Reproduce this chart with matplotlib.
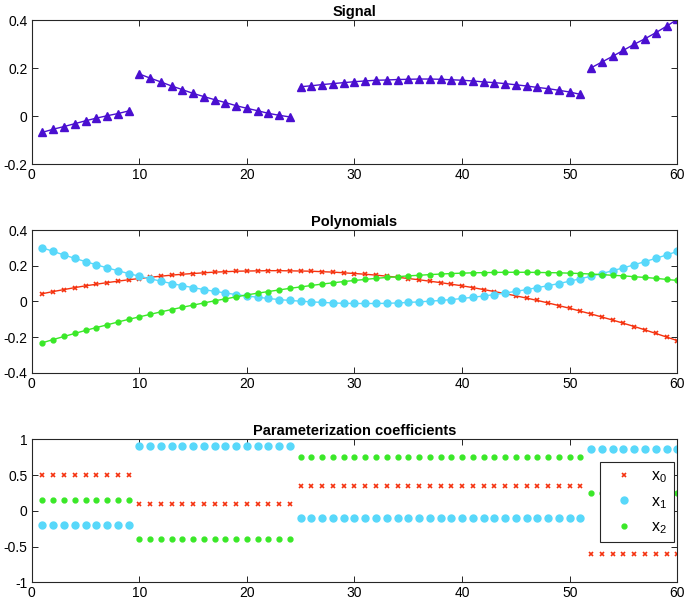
import numpy as np
import matplotlib
matplotlib.use("Agg")
import matplotlib.pyplot as plt
from matplotlib.ticker import FuncFormatter

plt.rcParams['font.family'] = ['Liberation Sans', 'DejaVu Sans']
plt.rcParams['mathtext.fontset'] = 'custom'
plt.rcParams['mathtext.rm'] = 'Liberation Sans'

# sample index
n = np.arange(1, 61)

# segments of the signal (start, end index, inclusive)
seg_bounds = [(1, 9), (10, 24), (25, 51), (52, 60)]

signal = [
    -0.068, -0.055, -0.044, -0.032, -0.020, -0.009, 0.001, 0.010, 0.021,
    0.175, 0.158, 0.142, 0.125, 0.110, 0.094, 0.081, 0.068, 0.056, 0.043,
    0.032, 0.022, 0.011, 0.003, -0.004,
    0.122, 0.126, 0.131, 0.135, 0.139, 0.143, 0.146, 0.149, 0.150, 0.152,
    0.153, 0.154, 0.154, 0.153, 0.151, 0.149, 0.146, 0.142, 0.139, 0.135,
    0.130, 0.125, 0.119, 0.114, 0.107, 0.100, 0.090,
    0.201, 0.225, 0.249, 0.274, 0.299, 0.322, 0.347, 0.374, 0.403,
]

# polynomial basis
poly0 = [
    0.043, 0.055, 0.066, 0.077, 0.087, 0.096, 0.105, 0.113, 0.121, 0.128,
    0.135, 0.141, 0.147, 0.152, 0.156, 0.160, 0.164, 0.166, 0.169, 0.170,
    0.171, 0.172, 0.172, 0.171, 0.170, 0.169, 0.166, 0.164, 0.160, 0.156,
    0.152, 0.147, 0.141, 0.135, 0.128, 0.121, 0.113, 0.105, 0.096, 0.087,
    0.077, 0.066, 0.055, 0.043, 0.031, 0.018, 0.005, -0.009, -0.024, -0.039,
    -0.055, -0.071, -0.088, -0.105, -0.123, -0.141, -0.160, -0.180, -0.200, -0.220,
]
poly1 = [
    0.300, 0.280, 0.260, 0.241, 0.223, 0.205, 0.188, 0.172, 0.156, 0.141,
    0.127, 0.113, 0.100, 0.088, 0.077, 0.066, 0.056, 0.047, 0.038, 0.030,
    0.023, 0.016, 0.010, 0.005, 0.001, -0.003, -0.006, -0.009, -0.011, -0.012,
    -0.012, -0.012, -0.011, -0.009, -0.006, -0.003, 0.001, 0.005, 0.010, 0.016,
    0.023, 0.030, 0.038, 0.047, 0.056, 0.066, 0.077, 0.088, 0.100, 0.113,
    0.127, 0.141, 0.156, 0.172, 0.188, 0.205, 0.223, 0.241, 0.260, 0.280,
]
poly2 = [
    -0.232, -0.214, -0.197, -0.180, -0.163, -0.147, -0.132, -0.116, -0.101, -0.087,
    -0.073, -0.059, -0.046, -0.033, -0.021, -0.009, 0.003, 0.014, 0.025, 0.036,
    0.046, 0.055, 0.064, 0.073, 0.081, 0.089, 0.097, 0.104, 0.111, 0.117,
    0.123, 0.129, 0.134, 0.138, 0.143, 0.146, 0.150, 0.153, 0.156, 0.158,
    0.160, 0.161, 0.162, 0.163, 0.163, 0.163, 0.162, 0.161, 0.160, 0.158,
    0.156, 0.153, 0.150, 0.146, 0.143, 0.138, 0.134, 0.129, 0.123, 0.117,
]

# coefficients, constant over each segment
seg_len = [9, 15, 27, 9]
coef0_seg = [0.50, 0.10, 0.35, -0.60]
coef1_seg = [-0.20, 0.91, -0.10, 0.86]
coef2_seg = [0.15, -0.40, 0.75, 0.25]

c_sig = '#4a0fd0'
c_red = '#f5320f'
c_cyan = '#58d8fa'
c_green = '#3ae828'

fig = plt.figure(figsize=(6.85, 6.04), dpi=100)
W, H = 685., 604.
left, right = 31.7, 677.3


def make_ax(top, bottom):
    ax = fig.add_axes([left / W, 1 - bottom / H, (right - left) / W, (bottom - top) / H])
    ax.tick_params(direction='in', length=4, labelsize=10, top=True, right=True,
                   labeltop=False, labelright=False, width=0.6, pad=3)
    for s in ax.spines.values():
        s.set_linewidth(0.8)
        s.set_color('#262626')
    ax.set_xlim(0, 60)
    ax.set_xticks([0, 10, 20, 30, 40, 50, 60])
    ax.yaxis.set_major_formatter(FuncFormatter(lambda v, p: '%g' % round(v, 3)))
    return ax


sig = np.array(signal)

ax1 = make_ax(20, 164)
for a, b in seg_bounds:
    ax1.plot(n[a - 1:b], sig[a - 1:b], '-^', color=c_sig, lw=1.0, ms=5.5,
             markerfacecolor=c_sig, markeredgecolor=c_sig)
ax1.set_ylim(-0.2, 0.4)
ax1.set_yticks([-0.2, 0, 0.2, 0.4])
ax1.set_title('Signal', fontsize=10.5, fontweight='bold', pad=3)

ax2 = make_ax(230, 372.7)
ax2.plot(n, poly0, '-x', color=c_red, lw=1.0, ms=3.5, mew=1.2)
ax2.plot(n, poly1, '-o', color=c_cyan, lw=1.0, ms=5)
ax2.plot(n, poly2, '-o', color=c_green, lw=1.0, ms=3.5)
ax2.set_ylim(-0.4, 0.4)
ax2.set_yticks([-0.4, -0.2, 0, 0.2, 0.4])
ax2.set_title('Polynomials', fontsize=10.5, fontweight='bold', pad=3)

ax3 = make_ax(439.3, 582.3)
ax3.plot(n, np.repeat(coef0_seg, seg_len), 'x', color=c_red, ms=3.5, mew=1.2,
         label=r'$\mathregular{x_0}$')
ax3.plot(n, np.repeat(coef1_seg, seg_len), 'o', color=c_cyan, ms=5,
         label=r'$\mathregular{x_1}$')
ax3.plot(n, np.repeat(coef2_seg, seg_len), 'o', color=c_green, ms=3.5,
         label=r'$\mathregular{x_2}$')
ax3.set_ylim(-1, 1)
ax3.set_yticks([-1, -0.5, 0, 0.5, 1])
ax3.set_title('Parameterization coefficients', fontsize=10.5, fontweight='bold', pad=3)
leg = ax3.legend(loc='upper left',
                 bbox_to_anchor=((600.3 - left) / (right - left), (582.3 - 462) / 143.),
                 borderaxespad=0, fontsize=11.5, frameon=True, fancybox=False,
                 framealpha=1, edgecolor='#262626', handlelength=2.2,
                 handletextpad=0.6, borderpad=0.4, labelspacing=0.55)
leg.get_frame().set_linewidth(0.8)

plt.savefig('out.png', dpi=100)
